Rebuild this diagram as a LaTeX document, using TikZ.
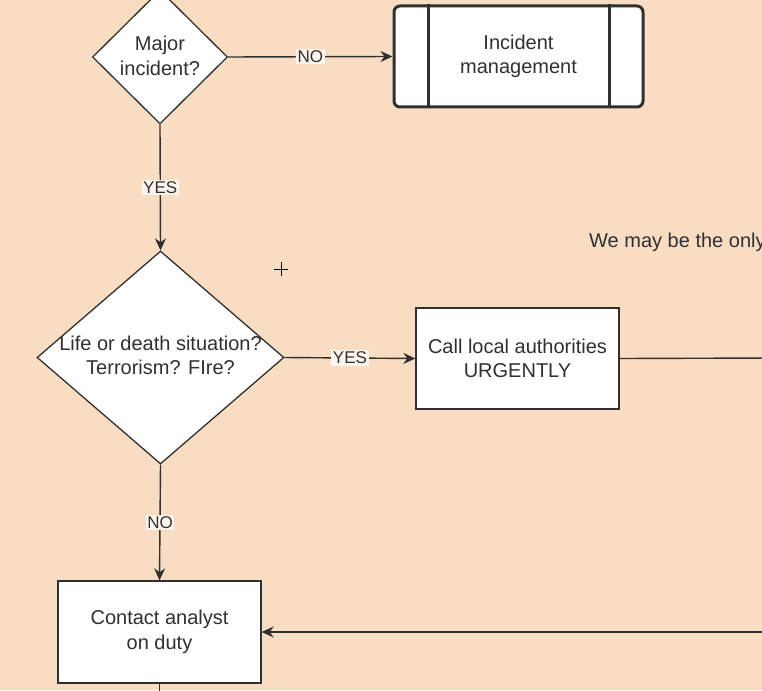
\documentclass[tikz,border=0pt]{standalone}
\usepackage{fontspec}
\setmainfont{Liberation Sans}
\usetikzlibrary{shapes.geometric,arrows.meta}
\definecolor{bg}{HTML}{F9DDC3}
\definecolor{ink}{HTML}{303030}
\definecolor{lblbg}{HTML}{FEF6EE}
\tikzset{
  conn/.style={draw=ink, line width=1.4pt},
  arr/.style={conn, -{Stealth[length=12pt,width=11pt]}},
  dia/.style={shape=diamond, draw=ink, fill=white, line width=1.3pt, inner sep=0pt},
  txt/.style={text=ink, align=center, font=\fontsize{20}{24.5}\selectfont},
  box/.style={draw=ink, fill=white, line width=1.3pt, txt, inner sep=0pt},
  lbl/.style={fill=lblbg, text=ink, inner sep=1.5pt, font=\fontsize{17}{19}\selectfont},
}
\begin{document}
\begin{tikzpicture}[x=1pt,y=-1pt]
\useasboundingbox (0,0) rectangle (762,690);
\clip (0,0) rectangle (762,690);
\fill[bg] (0,0) rectangle (762,690);

% decision 1
\node[dia, minimum width=135pt, minimum height=134pt] (d1) at (160,57) {};
\node[txt] (d1t) at ([yshift=1pt]d1.center) {Major\\incident?};

% incident management (predefined process)
\node[box, rounded corners=6pt, line width=3pt, minimum width=249pt, minimum height=101pt] (im) at (518.5,56.5) {Incident\\management};
\draw[ink, line width=3pt] ([xshift=36pt]im.north west) -- ([xshift=36pt]im.south west);
\draw[ink, line width=3pt] ([xshift=-35pt]im.north east) -- ([xshift=-35pt]im.south east);

% decision 2
\node[dia, minimum width=247pt, minimum height=213pt] (d2) at (160.5,357.5) {};
\node[txt] (d2t) at ([yshift=2pt]d2.center) {Life or death situation?\\Terrorism? FIre?};

% call authorities
\node[box, minimum width=203pt, minimum height=101pt] (cla) at (517.5,358.5) {Call local authorities\\URGENTLY};

% contact analyst
\node[box, minimum width=203pt, minimum height=102pt] (cad) at (159.5,632) {Contact analyst\\on duty};

% side text (cut by the right edge, as in the reference)
\node[txt, anchor=base west, inner sep=0pt] (note) at (589,247) {We may be the only};

% off-picture ends
\coordinate (e1) at (775,358);
\coordinate (e2) at (775,632);
\coordinate (e3) at (159.5,700);

% connectors
\draw[arr] (d1.east) -- node[lbl] {NO} (im.west);
\draw[arr] (d1.south) -- node[lbl] {YES} (d2.north);
\draw[arr] (d2.east) -- node[lbl] {YES} (cla.west);
\draw[arr] (d2.south) -- node[lbl] {NO} (cad.north);
\draw[conn] (cla.east) -- (e1);
\draw[arr] (e2) -- (cad.east);
\draw[conn] (cad.south) -- (e3);

% cursor cross
\draw[black, line width=0.8pt] (274,269) -- (288,269) (281,262) -- (281,276);
\end{tikzpicture}
\end{document}
